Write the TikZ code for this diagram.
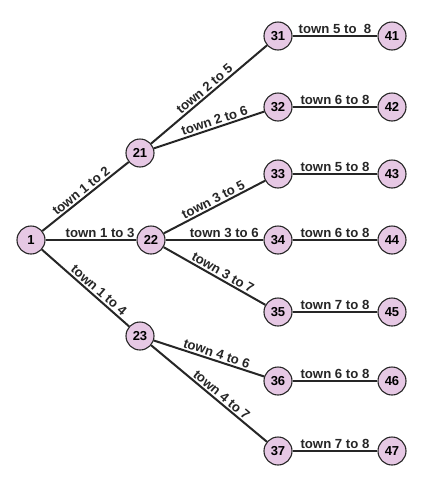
\documentclass[tikz,border=0pt]{standalone}
\usepackage{fontspec}
\setmainfont{Liberation Sans}
\usetikzlibrary{arrows,shapes}
\usetikzlibrary{calc}
\definecolor{townfill}{RGB}{230,200,228}

\begin{document}
\begin{tikzpicture}[x=1pt, y=-1pt, auto, swap,
	town/.style={circle, draw=black!85, line width=1.1pt, fill=townfill, minimum size=28pt, inner sep=0pt, font=\bfseries\fontsize{13}{13}\selectfont},
	road/.style={line width=2pt, black!85},
	lbl/.style={sloped, above, inner sep=1.5pt, font=\bfseries\fontsize{13.2}{13}\selectfont}]
	\useasboundingbox (0,0) rectangle (425,480);

	\node[town] (t1) at (31,240) {1};
	\node[town] (t21) at (140,153) {21};
	\node[town] (t22) at (151,240) {22};
	\node[town] (t23) at (140,336) {23};

	\foreach \n/\y in { 1/36, 2/107, 3/174, 4/240, 5/312, 6/381, 7/451 } {
		\node[town] (t3\n) at (278,\y) {3\n};
		\node[town] (t4\n) at (392,\y) {4\n};
	}

	\foreach \a/\b/\ttext/\p in { t1/t21/1 to 2/0.5, t1/t22/1 to 3/0.6, t1/t23/1 to 4/0.6,
		t21/t31/2 to 5/0.5, t21/t32/2 to 6/0.57, t22/t33/3 to 5/0.52, t22/t34/3 to 6/0.6,
		t22/t35/3 to 7/0.55, t23/t36/4 to 6/0.55, t23/t37/4 to 7/0.57 }
		\draw[road] (\a) -- node[lbl, pos=\p] {town \ttext} (\b);

	\foreach \n/\ttext in { 1/5 to~~8, 2/6 to 8, 3/5 to 8, 4/6 to 8, 5/7 to 8, 6/6 to 8, 7/7 to 8 }
		\draw[road] (t3\n) -- node[lbl] {town \ttext} (t4\n);
\end{tikzpicture}
\end{document}
